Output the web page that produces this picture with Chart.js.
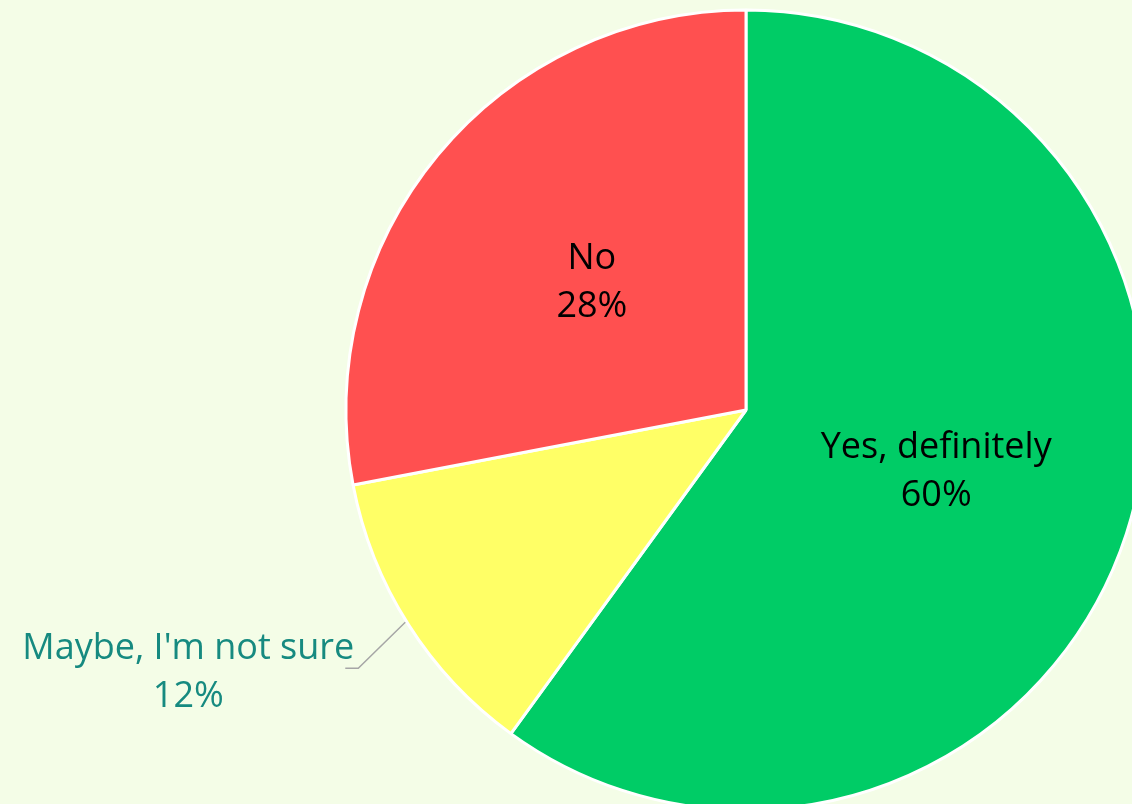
<!DOCTYPE html>
<html>
<head>
<meta charset="utf-8">
<script src="https://cdn.jsdelivr.net/npm/chart.js@4/dist/chart.umd.min.js"></script>
<style>
  html, body { margin: 0; padding: 0; width: 1132px; height: 804px; overflow: hidden; background: #f4fde7; }
  #wrap { position: absolute; left: 0; top: -10px; width: 1166px; height: 840px; }
</style>
</head>
<body>
<div id="wrap"><canvas id="chart"></canvas></div>
<script>
const labels = ["Yes, definitely", "Maybe, I'm not sure", "No"];
const values = [60, 12, 28];
const colors = ["#00cc66", "#ffff66", "#ff5050"];
const labelColors = ["#000000", "#168a80", "#000000"];
const outside = [false, true, false];

// draws "category / percent" labels like the Excel data labels
const pieLabels = {
  id: "pieLabels",
  afterDatasetsDraw(chart) {
    const ctx = chart.ctx;
    const meta = chart.getDatasetMeta(0);
    const total = values.reduce((a, b) => a + b, 0);
    ctx.save();
    ctx.font = "36px 'Open Sans', sans-serif";
    ctx.textAlign = "center";
    ctx.textBaseline = "middle";
    meta.data.forEach((arc, i) => {
      const pct = Math.round(values[i] / total * 100) + "%";
      const mid = (arc.startAngle + arc.endAngle) / 2;
      let x, y;
      if (outside[i]) {
        const ex = arc.x + Math.cos(mid) * arc.outerRadius;
        const ey = arc.y + Math.sin(mid) * arc.outerRadius;
        // leader line
        ctx.strokeStyle = "#a6a6a6";
        ctx.lineWidth = 1.5;
        ctx.beginPath();
        ctx.moveTo(ex - 3, ey - 2);
        ctx.lineTo(ex - 50, ey + 44);
        ctx.lineTo(ex - 63, ey + 44);
        ctx.stroke();
        x = ex - 220;
        y = ey + 48;
      } else {
        x = arc.x + Math.cos(mid) * arc.outerRadius * 0.5;
        y = arc.y + Math.sin(mid) * arc.outerRadius * 0.5;
      }
      ctx.fillStyle = labelColors[i];
      ctx.fillText(labels[i], x, y - 24);
      ctx.fillText(pct, x, y + 24);
    });
    ctx.restore();
  }
};

new Chart(document.getElementById("chart"), {
  type: "pie",
  data: {
    labels,
    datasets: [{
      data: values,
      backgroundColor: colors,
      borderColor: "#ffffff",
      borderWidth: 3
    }]
  },
  options: {
    responsive: true,
    maintainAspectRatio: false,
    animation: false,
    radius: 400,
    layout: { padding: { left: 326 } },
    plugins: {
      legend: { display: false },
      tooltip: { enabled: false }
    }
  },
  plugins: [pieLabels]
});
</script>
</body>
</html>
